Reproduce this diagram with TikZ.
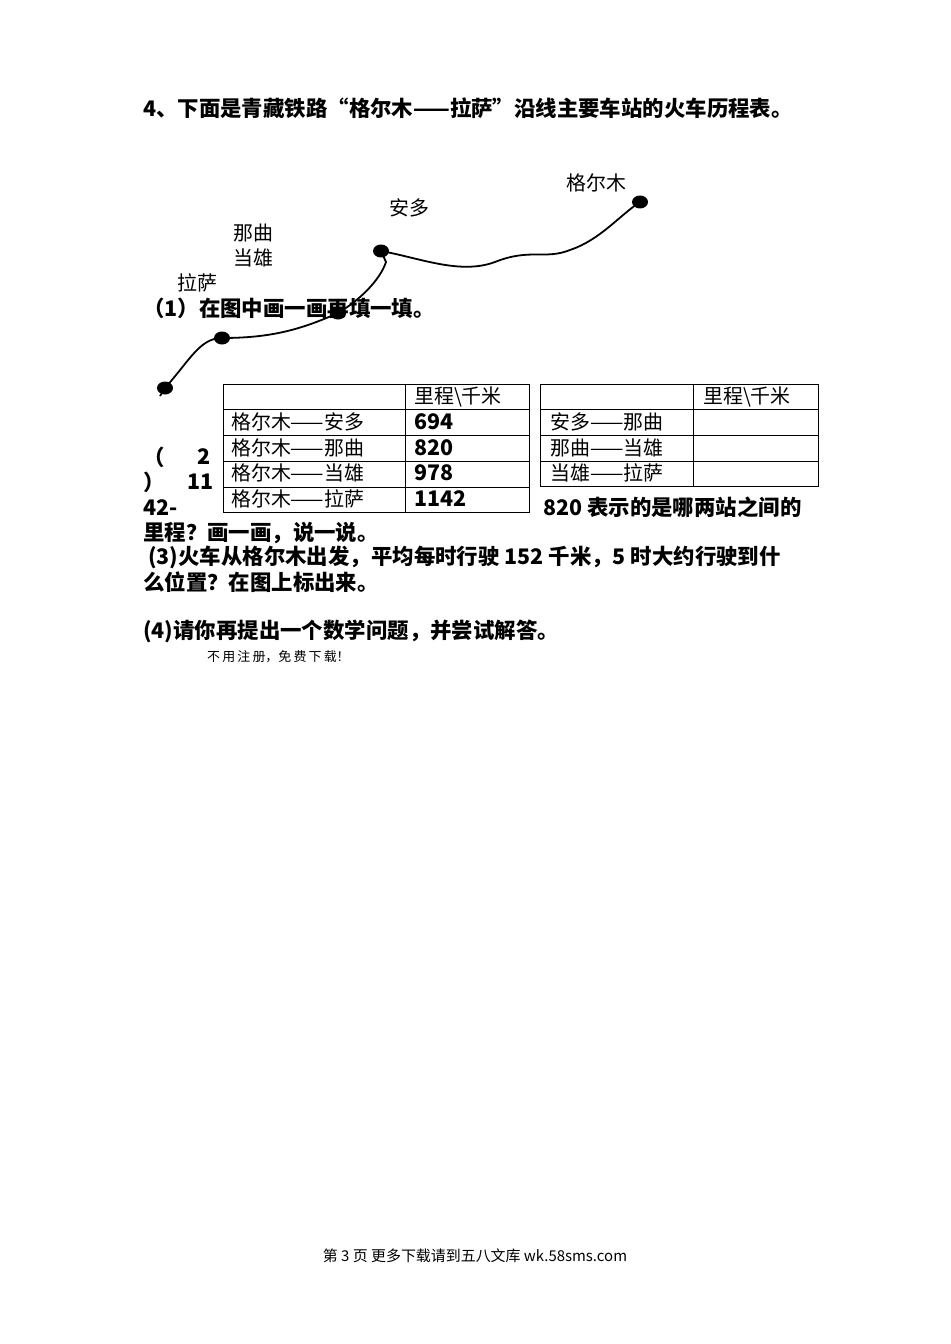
\documentclass[tikz,border=0pt]{standalone}
\usepackage{fontspec}
\usetikzlibrary{shapes.geometric}
\setmainfont{Liberation Serif}
\newfontfamily\cjk{Noto Sans CJK SC}
\begin{document}
\begin{tikzpicture}[x=1bp,y=-1bp,
  t/.style={font=\cjk\fontsize{20}{22}\selectfont,inner sep=0,anchor=west},
  tb/.style={font=\cjk\bfseries\fontsize{21.5}{23}\selectfont,inner sep=0,anchor=west},
  dot/.style={fill=black,ellipse,minimum width=16bp,minimum height=13bp,inner sep=0}]
\useasboundingbox[fill=white] (0,0) rectangle (950,1344);
\node[tb] (title) at (143,108) {4、下面是青藏铁路“格尔木——拉萨”沿线主要车站的火车历程表。};
\node[t] (g) at (566,183) {格尔木};
\node[t] (a) at (389,208) {安多};
\node[t] (n) at (233,233) {那曲};
\node[t] (d) at (233,258) {当雄};
\node[t] (l) at (177,283) {拉萨};
\draw[line width=1.8pt] (160,396) -- (165,388) .. controls (190,360) and (200,338) .. (222,338)
 .. controls (270,338) and (300,330) .. (338,313) .. controls (360,300) and (380,280) .. (386,262)
 -- (381,251) .. controls (420,258) and (460,275) .. (495,262) .. controls (530,248) and (545,260) .. (570,250)
 .. controls (600,240) and (620,215) .. (640,202);
\node[dot] (p1) at (165,388) {};
\node[dot] (p2) at (222,338) {};
\node[dot] (p3) at (338,313) {};
\node[dot] (p4) at (381,251) {};
\node[dot] (p5) at (640,202) {};
\node[tb] (q1) at (143,308) {（1）在图中画一画再填一填。};
% left table
\draw (223,384) rectangle (529,512);
\draw (405,384) -- (405,512);
\foreach \y in {409,435,461,487} \draw (223,\y) -- (529,\y);
\node[t] at (414,397) {里程\textbackslash 千米};
\node[t] at (231,422) {格尔木——安多};
\node[t] at (231,448) {格尔木——那曲};
\node[t] at (231,473) {格尔木——当雄};
\node[t] at (231,499) {格尔木——拉萨};
\node[tb] at (414,422) {694};
\node[tb] at (414,448) {820};
\node[tb] at (414,473) {978};
\node[tb] at (414,499) {1142};
% right table
\draw (540,384) rectangle (818,486);
\draw (693,384) -- (693,486);
\foreach \y in {409,435,461} \draw (540,\y) -- (818,\y);
\node[t] at (703,397) {里程\textbackslash 千米};
\node[t] at (550,422) {安多——那曲};
\node[t] at (550,448) {那曲——当雄};
\node[t] at (550,473) {当雄——拉萨};
\node[tb] at (143,457) {（};
\node[tb] at (197,457) {2};
\node[tb] at (143,482) {）};
\node[tb] at (187,482) {11};
\node[tb] at (143,508) {42-};
\node[tb] at (543,507) {820 表示的是哪两站之间的};
\node[tb] at (143,533) {里程？画一画，说一说。};
\node[tb] at (148,557) {(3)火车从格尔木出发，平均每时行驶 152 千米，5 时大约行驶到什};
\node[tb] at (143,582) {么位置？在图上标出来。};
\node[tb] at (143,631) {(4)请你再提出一个数学问题，并尝试解答。};
\node[font=\cjk\fontsize{13}{15}\selectfont,inner sep=0,anchor=west] at (207,657) {不\,用\,注\,册，免\,费\,下\,载！};
\node[font=\cjk\fontsize{15}{17}\selectfont,inner sep=0] at (475,1256) {第 3 页 更多下载请到五八文库 wk.58sms.com};
\end{tikzpicture}
\end{document}
